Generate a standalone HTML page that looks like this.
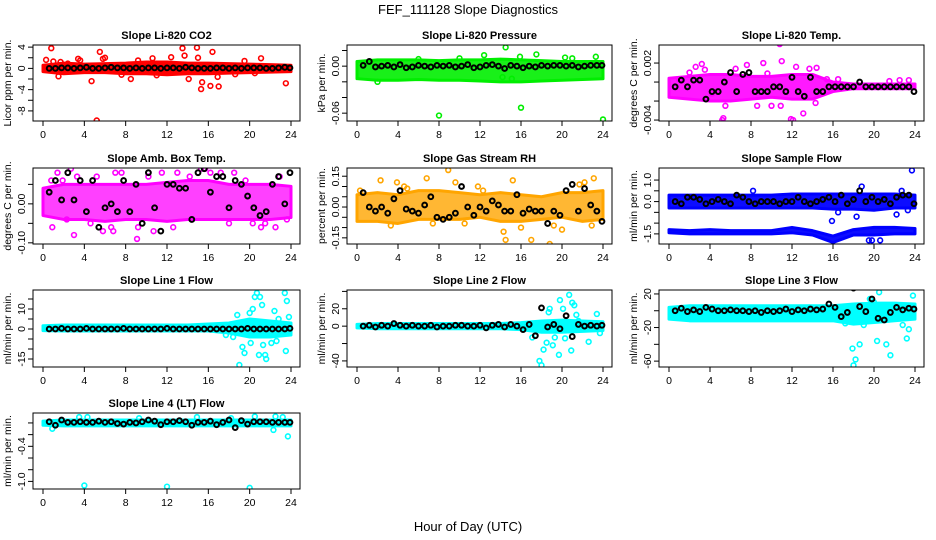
<!DOCTYPE html>
<html><head><meta charset="utf-8"><style>
body{margin:0;background:#fff;}
svg{display:block;font-family:"Liberation Sans",sans-serif;}
</style></head><body>
<svg id="chart" width="936" height="540" viewBox="0 0 936 540">
<rect x="0" y="0" width="936" height="540" fill="#fff"/>
<text x="468" y="14" text-anchor="middle" font-size="13">FEF_111128  Slope Diagnostics</text>
<text x="468" y="531" text-anchor="middle" font-size="13">Hour of Day (UTC)</text>
</svg>
<script>
const xTicks = [0,4,8,12,16,20,24];
const meanHours = [0.6,1.2,1.8,2.4,3,3.6,4.2,4.8,5.4,6,6.6,7.2,7.8,8.4,9,9.6,10.2,10.8,11.4,12,12.6,13.2,13.8,14.4,15,15.6,16.2,16.8,17.4,18,18.6,19.2,19.8,20.4,21,21.6,22.2,22.8,23.4,23.9];
const bandHours = [0,2,4,6,8,10,12,14,16,18,20,22,24];

const co2Lo = [-0.6,-1,-0.8,-0.8,-1,-1,-1.2,-1,-1,-0.9,-0.8,-0.7,-0.6];
const co2Hi = [0.6,1,0.8,0.9,1,1.2,1.2,1,1,0.9,0.8,0.7,0.6];
const co2OutX = [0.8,0.3,1.5,1.7,2.4,3.4,4.7,5.2,5.5,5.8,6,7.6,8.5,9.2,10.6,11,12.4,13.5,13.7,14.1,14.9,15,15.3,15.4,16.2,16.4,16.9,17,19.5,21.1,23.5,18.6,20.5,1,3.6];
const co2OutY = [3.8,1.6,-1.5,1.2,0.9,1.8,-2.4,-9.8,3.1,1.8,2,-1.2,-2,1.5,1.9,-1.3,2.1,3.8,2.4,-2,3.9,2,-3.9,-2.6,-3.3,3.1,-1.6,-3.4,1.4,1.9,-2.8,-1.1,-0.9,1.3,1.5];
const co2Mean = [0,0,0.1,0.1,0,0.1,0.2,0,0,0.1,0.2,0.1,0.1,0,0.1,0,0.1,0.1,0,0.1,0.1,0,0.2,0.1,0,0,0,0.1,0.1,0,0.1,0,0.1,0.1,0.1,0,0,0.1,0.2,0.1];

const presLo = [-0.016,-0.018,-0.018,-0.017,-0.018,-0.018,-0.019,-0.02,-0.02,-0.019,-0.018,-0.017,-0.016];
const presHi = [0.006,0.008,0.008,0.008,0.007,0.008,0.008,0.009,0.008,0.007,0.006,0.006,0.006];
const presOutX = [8,16,24,14.5,12.4,17.5,15.9,23.3,6,10,21,15.1,14.2,2,20.3];
const presOutY = [-0.063,-0.053,-0.068,0.024,0.014,0.015,0.012,0.012,0.009,0.01,0.01,-0.016,-0.014,-0.02,0.011];
const presMean = [0.001,0.006,-0.001,0,0.001,-0.001,0.002,-0.002,-0.001,0.001,0,-0.001,0.001,0,0.001,-0.001,0,0.002,-0.002,-0.001,0.001,0.002,0,-0.003,0.001,0,-0.002,0,-0.001,0.001,0,0.001,0.001,0,0.001,-0.001,0,0.001,0.001,0.001];

const tempLo = [-0.0016,-0.0018,-0.002,-0.002,-0.0018,-0.0016,-0.0018,-0.0018,-0.001,-0.0007,-0.0007,-0.0007,-0.0007];
const tempHi = [0.0004,0.0006,0.0008,0.0008,0.0006,0.0006,0.0008,0.0008,0.0,-0.0002,-0.0002,-0.0002,-0.0002];
const tempOutX = [10.8,11,5.2,5.3,5.5,7.6,8.6,9.2,10,10.9,11.9,12.1,13.7,14.3,13.1,2,2.6,3.2,3.5,4.2,1,6.5,12.4,15.4,16.5,19.8,21.5,22.5,23.4,9.6,14.4];
const tempOutY = [0.004,0.0022,-0.004,-0.0038,-0.0025,0.0018,-0.0025,0.002,-0.0025,-0.0025,-0.0039,-0.004,0.0014,-0.0022,-0.0033,0.001,0.0016,0.0019,0.0013,-0.0012,0.0003,0.0014,0.0016,0.0003,0.0003,-0.0005,0.0001,0.0002,0.0002,0.0009,0.0015];
const tempMean = [-0.0005,0.0002,-0.0005,0.0002,0.0002,-0.0018,-0.001,-0.001,0,0.001,-0.001,0.0008,0.001,-0.001,-0.001,-0.001,-0.0005,-0.0005,-0.001,0.0005,-0.001,-0.0015,0.0005,-0.001,-0.001,-0.0005,-0.0005,-0.0005,-0.0005,-0.0005,0,-0.0005,-0.0005,-0.0005,-0.0005,-0.0005,-0.0005,-0.0005,-0.0005,-0.001];

const ambLo = [-0.03,-0.04,-0.04,-0.045,-0.04,-0.04,-0.045,-0.04,-0.04,-0.04,-0.04,-0.04,-0.035];
const ambHi = [0.04,0.05,0.05,0.05,0.05,0.05,0.055,0.06,0.06,0.05,0.05,0.05,0.045];
const ambOutX = [0.8,1.4,2.7,3.3,5.2,5.8,6.6,7,7.6,9.1,10.2,10.7,12.6,13,15.3,15.7,16.2,17.2,18.5,19.6,20.3,21.5,22.5,22.9,3,0.9,2.3,4.6,6.8,9.2,11.5,14.2,18,21.1,23.6,1.9];
const ambOutY = [0.06,0.08,0.09,0.07,0.07,-0.07,-0.06,0.08,0.08,-0.09,0.07,-0.07,-0.06,0.08,0.09,0.09,0.08,0.08,0.08,0.06,-0.05,-0.05,-0.06,0.07,-0.08,-0.06,-0.04,-0.05,-0.07,-0.06,0.08,0.07,-0.05,-0.06,-0.04,0.06];
const ambMean = [0.03,0.06,0.01,0.08,0.01,0.06,-0.02,0.06,-0.06,-0.01,0.0,-0.02,0.06,-0.02,0.05,-0.05,0.08,-0.01,-0.07,0.05,0.05,0.04,0.04,-0.04,0.08,0.09,0.03,0.07,0.07,-0.01,0.06,0.05,0.02,-0.01,-0.03,-0.02,0.05,0.07,0.0,0.08];

const rhLo = [-0.07,-0.07,-0.08,-0.06,-0.06,-0.06,-0.05,-0.07,-0.07,-0.06,-0.05,-0.07,-0.06];
const rhHi = [0.06,0.07,0.06,0.08,0.08,0.07,0.06,0.07,0.06,0.05,0.07,0.07,0.08];
const rhOutX = [0.3,2.3,3.9,6.8,8.9,9.6,7.4,4.6,4.9,3.3,14.3,14.5,15.2,17,16,18.8,19.2,20,21.7,22.2,23.1,22.9,12.3,11.8,10.5];
const rhOutY = [0.08,0.13,0.12,0.14,0.18,0.12,-0.08,0.1,0.09,-0.09,-0.12,-0.16,0.13,-0.16,-0.1,-0.18,-0.09,-0.11,0.11,0.12,0.14,-0.09,0.08,0.1,-0.08];
const rhMean = [0.07,0.0,-0.02,0.0,-0.03,0.04,0.08,-0.01,-0.02,-0.03,0.01,0.05,-0.05,-0.06,-0.05,-0.03,0.1,0.0,-0.04,0.0,-0.02,0.03,0.01,-0.02,-0.02,0.06,-0.03,-0.01,-0.02,-0.02,-0.08,-0.02,-0.04,0.08,0.11,-0.02,0.09,0.01,-0.02,-0.07];

const sfLo = [-0.3,-0.3,-0.3,-0.3,-0.3,-0.3,-0.3,-0.3,-0.35,-0.35,-0.4,-0.3,-0.3];
const sfHi = [0.3,0.3,0.3,0.3,0.3,0.3,0.35,0.35,0.35,0.35,0.35,0.35,0.3];
const sfLowLo = [-1.45,-1.5,-1.5,-1.5,-1.5,-1.5,-1.45,-1.55,-1.9,-1.55,-1.55,-1.5,-1.5];
const sfLowHi = [-1.3,-1.35,-1.3,-1.35,-1.35,-1.35,-1.2,-1.35,-1.6,-1.3,-1.2,-1.2,-1.25];
const sfOutX = [23.7,18.8,8.2,15.9,16.5,19.5,22.7,19.8,20.6,18.3,22.2,23.3];
const sfOutY = [1.45,0.7,0.5,-0.9,-0.5,-1.8,0.5,-1.8,-1.8,-0.7,-0.6,-0.4];
const sfMean = [0.0,-0.1,0.2,0.2,0.1,-0.1,0.0,0.1,0.0,-0.1,0.3,0.2,0.0,-0.1,0.0,0.0,0.0,-0.1,0.0,0.0,0.2,0.0,-0.1,0.0,0.1,0.2,0.0,0.3,-0.1,0.1,0.5,0.0,0.2,0.0,0.1,-0.1,0.2,0.3,0.3,-0.1];

const l1Lo = [-0.8,-1,-1,-1,-1,-1,-1,-1,-1,-2,-4,-4,-3];
const l1Hi = [1.6,2,2,2,2,2,2,2,2.5,3,5,4,3];
const l1OutX = [20.7,20.5,21,20.3,21.2,20,19.3,18.8,19,19.5,20.1,21.6,22.1,22.4,22.8,23.4,23.6,23.8,23.5,21.5,20.9,21.3,22.6,17.7,18.4,23.1];
const l1OutY = [18,16,16,10,12,8,-9,7,-18,-12,-7,-15,-7,9,5,18,14,6,-11,-13,-13,-8,-6,-3,-4,-2];
const l1Mean = [0,0,0.3,0,0,0,0.3,0,0,0,0,0,0.3,0,0,0,0,0,0,0.3,0,0,0,0,0,0,0,0,0,0,0,0,0.3,0,0,0,0,0,0,0.3];

const l2Lo = [-2,-3,-3,-3,-3,-3,-3,-3,-4,-7,-7,-6,-5];
const l2Hi = [2,3,3,3,3,3,3,3,4,6,7,6,5];
const l2OutX = [18,17.8,18.2,18.7,18.8,19.1,19.3,19.8,20.1,20.3,20.7,21,21.2,21.4,23.4,23.7,17.1,19.7,20.9,22.6,18.5,21.6];
const l2OutY = [-45,-40,-27,16,20,-22,-13,30,20,-14,36,27,24,13,14,-8,-13,-33,-28,-18,-19,6];
const l2Mean = [0,1,-1,1,0,3,1,0,1,0,0,1,-1,0,0,1,1,0,0,1,-2,1,2,-1,2,0,-4,2,-11,21,-1,2,-3,12,-12,2,0,1,0,1];

const l3Lo = [-10,-12,-12,-12,-12,-12,-12,-12,-12,-16,-14,-12,-10];
const l3Hi = [4,6,6,6,6,6,6,6,6,8,9,9,8];
const l3OutX = [18,18.2,18.6,19,19.6,20,20.3,20.5,21.2,21.6,22.3,23.2,23.6,23.8,23.4,17.9,17.2,22.8];
const l3OutY = [-65,-58,-40,-17,14,10,-36,22,-40,-53,-6,-33,33,18,-22,-45,-15,-17];
const l3Mean = [0,3,-1,1,-1,4,2,0,0,1,0,0,-1,0,-2,0,-1,0,2,-1,1,0,2,1,2,8,4,-7,-2,27,5,-1,14,-9,-11,-2,4,1,3,2];

const l4Lo = [-0.04,-0.05,-0.05,-0.05,-0.05,-0.05,-0.05,-0.05,-0.05,-0.05,-0.05,-0.05,-0.05];
const l4Hi = [0.03,0.05,0.05,0.05,0.05,0.05,0.05,0.05,0.05,0.05,0.05,0.05,0.05];
const l4OutX = [4,12,20,23.7,0.9,3.5,4.3,9.3,14.9,18.2,20.5,22.5,22.3,23.2];
const l4OutY = [-1.07,-1.09,-1.11,-0.23,-0.1,0.1,0.1,0.08,0.1,0.08,0.11,0.11,-0.12,0.1];
const l4Mean = [0.02,-0.04,0.05,0.01,0.01,0.02,0.01,0.01,0.03,0.01,0.02,-0.01,-0.02,0.01,0,0.02,0.05,0.03,-0.03,0.02,0.02,0.04,0.02,-0.04,0.01,0.01,0.03,-0.03,0.01,0.05,-0.08,0.04,-0.02,0.02,0.02,0.02,0.01,0.01,0.01,0.01];

const NS = 'http://www.w3.org/2000/svg';
const svg = document.getElementById('chart');
function mk(tag, attrs, parent){ const e=document.createElementNS(NS,tag); for(const k in attrs) e.setAttribute(k,attrs[k]); (parent||svg).appendChild(e); return e; }

const cols = [{l:33,r:300},{l:347,r:612},{l:659,r:924}];
const rows = [{t:45,b:121},{t:168,b:244},{t:290,b:367},{t:413,b:489}];

const panels = [
 {key:'co2',title:'Slope Li-820 CO2',ylab:'Licor ppm per min.',c:0,r:0,ymin:-9.9,ymax:4.4,ticks:[4,2,0,-2,-4,-6,-8],labels:['4','','0','','-4','','-8'],color:'#ff0000',op:1,lo:co2Lo,hi:co2Hi,ox:co2OutX,oy:co2OutY,m:co2Mean},
 {key:'pressure',title:'Slope Li-820 Pressure',ylab:'kPa per min.',c:1,r:0,ymin:-0.07,ymax:0.027,ticks:[0.02,0,-0.02,-0.04,-0.06],labels:['','0.00','','','-0.06'],color:'#00ee00',op:0.9,lo:presLo,hi:presHi,ox:presOutX,oy:presOutY,m:presMean},
 {key:'temp',title:'Slope Li-820 Temp.',ylab:'degrees C per min.',c:2,r:0,ymin:-0.0041,ymax:0.0039,ticks:[0.002,0,-0.002,-0.004],labels:['0.002','','','-0.004'],color:'#ff00ff',op:0.9,lo:tempLo,hi:tempHi,ox:tempOutX,oy:tempOutY,m:tempMean},
 {key:'ambtemp',title:'Slope Amb. Box Temp.',ylab:'degrees C per min.',c:0,r:1,ymin:-0.103,ymax:0.092,ticks:[0.05,0,-0.05,-0.1],labels:['','0.00','','-0.10'],color:'#ff00ff',op:0.75,lo:ambLo,hi:ambHi,ox:ambOutX,oy:ambOutY,m:ambMean},
 {key:'rh',title:'Slope Gas Stream RH',ylab:'percent per min.',c:1,r:1,ymin:-0.18,ymax:0.19,ticks:[0.15,0.1,0.05,0,-0.05,-0.1,-0.15],labels:['0.15','','','0.00','','','-0.15'],color:'#ffa500',op:0.8,lo:rhLo,hi:rhHi,ox:rhOutX,oy:rhOutY,m:rhMean},
 {key:'sampleflow',title:'Slope Sample Flow',ylab:'ml/min per min.',c:2,r:1,ymin:-1.97,ymax:1.56,ticks:[1,0.5,0,-0.5,-1,-1.5],labels:['1.0','','0.0','','','-1.5'],color:'#0000ff',op:0.95,lo:sfLo,hi:sfHi,lo2:sfLowLo,hi2:sfLowHi,ox:sfOutX,oy:sfOutY,m:sfMean},
 {key:'line1',title:'Slope Line 1 Flow',ylab:'ml/min per min.',c:0,r:2,ymin:-19,ymax:19.5,ticks:[15,10,5,0,-5,-10,-15],labels:['','10','','0','','','-15'],color:'#00ffff',op:1,lo:l1Lo,hi:l1Hi,ox:l1OutX,oy:l1OutY,m:l1Mean},
 {key:'line2',title:'Slope Line 2 Flow',ylab:'ml/min per min.',c:1,r:2,ymin:-47,ymax:41.6,ticks:[40,20,0,-20,-40],labels:['','20','0','','-40'],color:'#00ffff',op:1,lo:l2Lo,hi:l2Hi,ox:l2OutX,oy:l2OutY,m:l2Mean},
 {key:'line3',title:'Slope Line 3 Flow',ylab:'ml/min per min.',c:2,r:2,ymin:-67,ymax:24.7,ticks:[20,0,-20,-40,-60],labels:['20','','-20','','-60'],color:'#00ffff',op:1,lo:l3Lo,hi:l3Hi,ox:l3OutX,oy:l3OutY,m:l3Mean},
 {key:'line4',title:'Slope Line 4 (LT) Flow',ylab:'ml/min per min.',c:0,r:3,ymin:-1.13,ymax:0.17,ticks:[0,-0.2,-0.4,-0.6,-0.8,-1],labels:['','','-0.4','','','-1.0'],color:'#00ffff',op:1,lo:l4Lo,hi:l4Hi,ox:l4OutX,oy:l4OutY,m:l4Mean}
];

panels.forEach(p=>{
  const col=cols[p.c], row=rows[p.r];
  const x0=col.l+10, x1=col.r-9;
  const xs=h=>x0+(h/24)*(x1-x0);
  const ys=v=>row.b-(v-p.ymin)/(p.ymax-p.ymin)*(row.b-row.t);
  const g=mk('g',{});
  
  
  const clip=mk('clipPath',{id:'clip-'+p.key},g);
  mk('rect',{x:col.l,y:row.t,width:col.r-col.l,height:row.b-row.t},clip);
  const t=mk('text',{x:(col.l+col.r)/2,y:row.t-6,'text-anchor':'middle','font-size':'11','font-weight':'bold'},g);
  t.textContent=p.title;
  
  
  const yl=mk('text',{x:0,y:0,'text-anchor':'middle','font-size':'10.5',transform:`translate(${col.l-22},${(row.t+row.b)/2}) rotate(-90)`},g);
  yl.textContent=p.ylab;
  
  
  const plot=mk('g',{'clip-path':`url(#clip-${p.key})`},g);
  
  
  function band(lo,hi,name){
    let pts=bandHours.map((h,i)=>xs(h)+','+ys(hi[i]));
    for(let i=bandHours.length-1;i>=0;i--) pts.push(xs(bandHours[i])+','+ys(lo[i]));
    const b=mk('polygon',{points:pts.join(' '),fill:p.color,stroke:p.color,'stroke-width':'3','stroke-linejoin':'round','fill-opacity':p.op},plot);
    
    
  }
  band(p.lo,p.hi,'point-cloud-'+p.key);
  if(p.lo2) band(p.lo2,p.hi2,'point-cloud-lower-'+p.key);
  p.ox.forEach((h,i)=>{
    const c=mk('circle',{cx:xs(h),cy:ys(p.oy[i]),r:2.4,fill:'none',stroke:p.color,'stroke-width':'1.6'},plot);
    
    
  });
  p.m.forEach((v,i)=>{
    const c=mk('circle',{cx:xs(meanHours[i]),cy:ys(v),r:2.4,fill:'none',stroke:'#000','stroke-width':'2'},plot);
    
    
  });
  const box=mk('rect',{x:col.l,y:row.t,width:col.r-col.l,height:row.b-row.t,fill:'none',stroke:'#000','stroke-width':'1'},g);
  
  
  xTicks.forEach(h=>{
    mk('line',{x1:xs(h),x2:xs(h),y1:row.b,y2:row.b+5,stroke:'#000'},g);
    const tl=mk('text',{x:xs(h),y:row.b+17,'text-anchor':'middle','font-size':'10.5'},g);
    tl.textContent=h;
    
    
  });
  p.ticks.forEach((v,i)=>{
    const y=ys(v);
    mk('line',{x1:col.l-5,x2:col.l,y1:y,y2:y,stroke:'#000'},g);
    if(p.labels[i]){
      const tl=mk('text',{x:0,y:0,'text-anchor':'middle','font-size':'10.5',transform:`translate(${col.l-8},${y}) rotate(-90)`},g);
      tl.textContent=p.labels[i];
      
      
    }
  });
});
</script>
</body></html>
